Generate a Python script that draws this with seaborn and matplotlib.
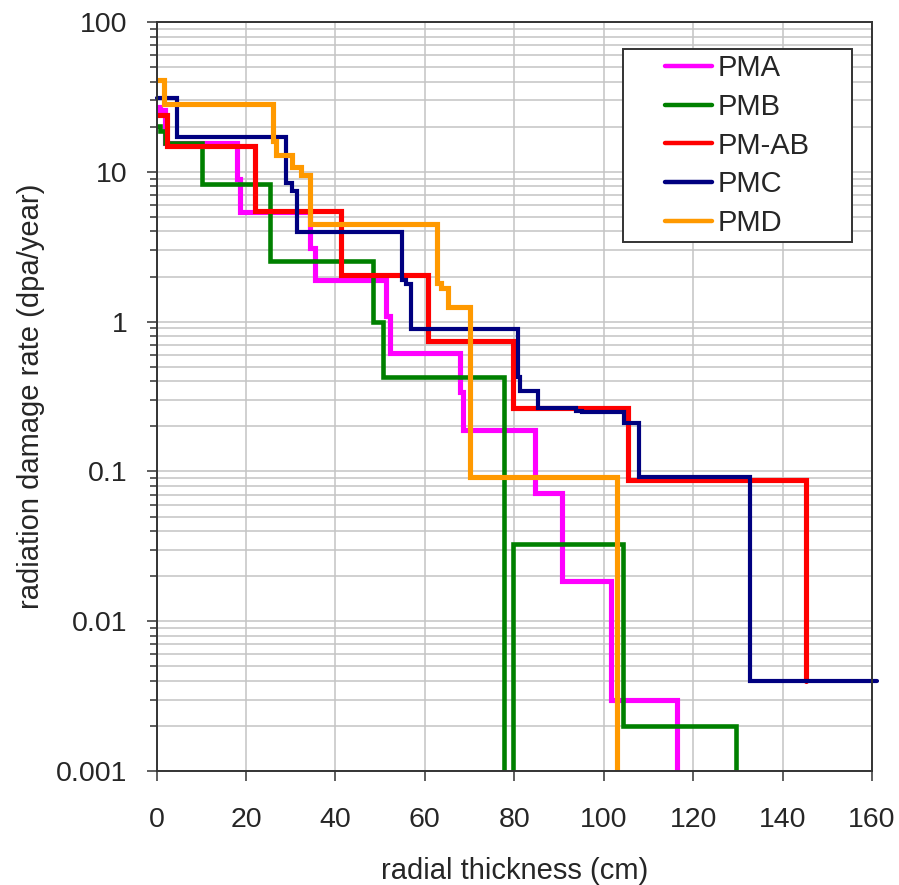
import numpy as np
import pandas as pd
import matplotlib
matplotlib.use("Agg")
import matplotlib.pyplot as plt
import seaborn as sns
from matplotlib.patches import Rectangle
from matplotlib.ticker import LogLocator, NullFormatter

# step curves: value holds from x[i] up to x[i+1]; 0 means the curve drops off the axis
pma_x = [0, 0.8, 1.9, 17.9, 18.6, 34.3, 35.4, 51.4, 52.1, 67.9, 68.5, 84.6, 90.7, 101.6, 116.5]
pma_y = [27.2, 25.9, 15.6, 8.9, 5.4, 3.1, 1.9, 1.09, 0.62, 0.34, 0.19, 0.072, 0.0185, 0.003, 0]

pmb_x = [0, 0.8, 1.9, 10.1, 25.3, 48.5, 50.6, 77.7, 79.8, 104.4, 129.5]
pmb_y = [20.3, 18.8, 15.5, 8.3, 2.55, 1.0, 0.43, 0, 0.033, 0.002, 0]

pmab_x = [0, 2.3, 22.0, 41.3, 60.7, 79.8, 105.5, 145.3]
pmab_y = [24.0, 14.8, 5.5, 2.05, 0.74, 0.265, 0.088, 0.004]

pmc_x = [0, 4.6, 29.0, 30.2, 31.4, 55.0, 55.7, 57.0, 80.8, 81.3, 85.4, 93.8, 95.2, 104.6, 107.8, 132.7, 161.0]
pmc_y = [31.0, 17.0, 8.4, 7.5, 3.95, 1.9, 1.77, 0.89, 0.43, 0.345, 0.267, 0.255, 0.25, 0.21, 0.092, 0.004, 0.004]

pmd_x = [0, 1.7, 26.0, 26.8, 30.2, 32.4, 34.3, 62.8, 63.6, 65.1, 70.0, 103.0]
pmd_y = [41.0, 28.5, 16.0, 13.0, 10.7, 9.5, 4.5, 1.8, 1.68, 1.25, 0.092, 0]

names = ["PMA", "PMB", "PM-AB", "PMC", "PMD"]
colors = ["#ff00ff", "#008000", "#ff0000", "#000080", "#ff9900"]
widths = [3.7, 3.3, 3.7, 3.0, 3.7]

xs = [pma_x, pmb_x, pmab_x, pmc_x, pmd_x]
ys = [pma_y, pmb_y, pmab_y, pmc_y, pmd_y]

rows = []
for n, xx, yy in zip(names, xs, ys):
    for a, b in zip(xx, yy):
        rows.append({"case": n, "thickness": a, "rate": b if b > 0 else 1e-5})
df = pd.DataFrame(rows)

sns.set_style("white")
plt.rcParams["font.family"] = ["Liberation Sans", "DejaVu Sans"]

fig = plt.figure(figsize=(8.99, 8.85), dpi=100)
ax = fig.add_axes([0.1741, 0.1288, 0.7959, 0.8463])
ax.set_yscale("log")

sns.lineplot(data=df, x="thickness", y="rate", hue="case", hue_order=names,
             palette=colors, estimator=None, sort=False, drawstyle="steps-post",
             legend=False, ax=ax)

for line, w in zip(ax.lines, widths):
    line.set_linewidth(w)
    line.set_solid_joinstyle("miter")
ax.lines[3].set_clip_on(False)

ax.set_xlim(0, 160)
ax.set_ylim(0.001, 100)
ax.set_xticks(range(0, 161, 20))
yt = [0.001, 0.01, 0.1, 1, 10, 100]
ax.set_yticks(yt)
ax.set_yticklabels(["0.001", "0.01", "0.1", "1", "10", "100"])
ax.yaxis.set_minor_locator(LogLocator(base=10, subs=np.arange(2, 10)))
ax.yaxis.set_minor_formatter(NullFormatter())

ax.grid(True, which="major", color="#c4c4c4", lw=1.1)
ax.grid(True, which="minor", axis="y", color="#c4c4c4", lw=1.1)
ax.set_axisbelow(True)

for s in ax.spines.values():
    s.set_visible(True)
    s.set_color("#333333")
    s.set_linewidth(1.4)

ax.tick_params(axis="x", which="major", direction="out", length=7, width=1.1,
               color="#333333", pad=19, labelsize=20.5, bottom=True)
ax.tick_params(axis="y", which="major", direction="out", length=7, width=1.1,
               color="#333333", pad=14, labelsize=20.5, left=True)
ax.tick_params(axis="y", which="minor", direction="out", length=5, width=1.1,
               color="#333333", left=True)

ax.set_xlabel("radial thickness (cm)", fontsize=21, labelpad=17)
ax.set_ylabel("radiation damage rate (dpa/year)", fontsize=21, labelpad=8)

box = Rectangle((0.652, 0.706), 0.32, 0.258, transform=ax.transAxes,
                facecolor="white", edgecolor="#333333", lw=1.4, zorder=4)
ax.add_patch(box)
leg = ax.legend(ax.lines, names, loc="center", bbox_to_anchor=(0.812, 0.835),
                frameon=False, fontsize=21, handlelength=1.6, handletextpad=0.2,
                labelspacing=0.37)
leg.set_zorder(5)
for h in leg.get_lines():
    h.set_linewidth(3.2)

fig.savefig("out.png", dpi=100)
